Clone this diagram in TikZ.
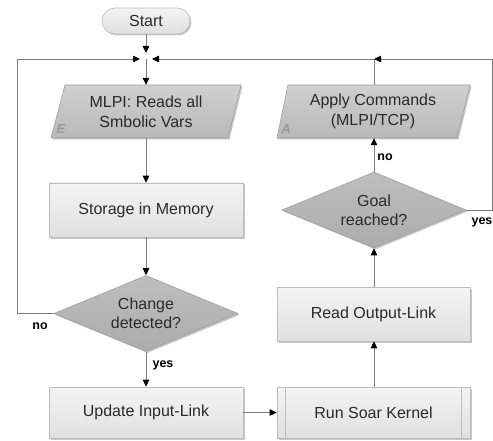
\documentclass[tikz,border=0pt]{standalone}
\usepackage{fontspec}
\setmainfont{Liberation Sans}
\usetikzlibrary{arrows.meta,shapes.geometric,shadows,calc}
\definecolor{linec}{HTML}{7A7A7A}
\definecolor{textc}{HTML}{2A2A2A}
\definecolor{boxtop}{HTML}{F4F4F4}
\definecolor{boxbot}{HTML}{E0E0E0}
\definecolor{boxborder}{HTML}{BDBDBD}
\definecolor{diatop}{HTML}{BEBEBE}
\definecolor{diabot}{HTML}{ACACAC}
\definecolor{diaborder}{HTML}{A0A0A0}
\definecolor{paratop}{HTML}{D0D0D0}
\definecolor{parabot}{HTML}{B8B8B8}
\definecolor{letterc}{HTML}{989898}
\begin{document}
\begin{tikzpicture}[x=1pt,y=-1pt,
  every node/.style={font=\fontsize{16}{20}\selectfont, text=textc},
  shd/.style={drop shadow={shadow xshift=1.5pt, shadow yshift=-1.5pt, fill=black, opacity=0.22}},
  box/.style={rectangle, minimum width=194pt, minimum height=54pt, inner sep=0pt,
    draw=boxborder, line width=0.6pt, top color=boxtop, bottom color=boxbot, shd},
  dia/.style={diamond, aspect=2.4, minimum width=184pt, minimum height=76pt, inner sep=0pt,
    draw=diaborder, line width=0.6pt, top color=diatop, bottom color=diabot, align=center, shd},
  parafill/.style={draw=diaborder, line width=0.6pt, top color=paratop, bottom color=parabot, shd},
  paratext/.style={rectangle, minimum width=176pt, minimum height=53pt, inner sep=0pt, align=center},
  pill/.style={rectangle, rounded corners=13pt, minimum width=88pt, minimum height=26pt, inner sep=0pt,
    draw=boxborder, line width=0.6pt, top color=boxtop, bottom color=boxbot, shd},
  conn/.style={draw=linec, line width=0.8pt},
  arr/.style={conn, -{Triangle[length=7pt,width=6.5pt,color=black]}},
  lbl/.style={font=\fontsize{12.5}{14}\selectfont\bfseries, text=black},
  letter/.style={font=\fontsize{13}{13}\selectfont\bfseries\itshape, text=letterc}
]
\useasboundingbox (0,0) rectangle (493,441);
\fill[white] (0,0) rectangle (493,441);

% start
\node[pill] (start) at (146,21) {Start};

% parallelograms
\path[parafill] (65,85) -- (241,85) -- (228,138) -- (51,138) -- cycle;
\node[paratext] (pE) at (146,111.5) {MLPI: Reads all\\Smbolic Vars};
\node[letter] (lE) at (61,129) {E};

\path[parafill] (288,85) -- (470,85) -- (457,138) -- (277,138) -- cycle;
\node[paratext] (pA) at (373,111.5) {Apply Commands\\(MLPI/TCP)};
\node[letter] (lA) at (286,129) {A};

% left column
\node[box] (store) at (146,210) {Storage in Memory};
\node[dia] (chg) at (146,313.5) {Change\\[-1pt]detected?};
\node[box, minimum height=51pt] (upd) at (146,412.5) {Update Input-Link};

% right column
\node[box, minimum width=193pt, minimum height=51pt] (run) at (373.5,412.5) {Run Soar Kernel};
\draw[boxborder, line width=0.6pt] ($(run.north west)+(9,0)$) -- ($(run.south west)+(9,0)$)
  ($(run.north east)+(-9,0)$) -- ($(run.south east)+(-9,0)$);
\node[box, minimum width=193pt] (read) at (373.5,314) {Read Output-Link};
\node[dia] (goal) at (374,210) {Goal\\[-1pt]reached?};

% junction coordinates
\coordinate (J) at (146,59);
\coordinate (K) at (374,59);
\coordinate (RT) at (492,59);
\coordinate (RB) at (492,210);
\coordinate (LT) at (17,59);
\coordinate (LB) at (17,313.5);

% connectors
\draw[arr, shorten >=6pt] (start.south) -- (J);
\draw[arr] (J) -- (J |- pE.north);
\draw[arr] (pE.south) -- (store.north);
\draw[arr] (store.south) -- (chg.north);
\draw[arr] (chg.south) -- (upd.north);
\draw[arr] (upd.east) -- (run.west);
\draw[arr] (run.north -| goal) -- (read.south -| goal);
\draw[arr] (read.north -| goal) -- (goal.south);
\draw[arr] (goal.north) -- (goal.north |- pA.south);
\draw[conn] (K |- pA.north) -- (K);
\draw[arr] (goal.east) -- (RB) -- (RT) -- (K);
\draw[arr, shorten >=6pt] (K) -- (J);
\draw[arr, shorten >=6pt] (chg.west) -- (LB) -- (LT) -- (J);

% labels
\node[lbl] (noL) at (40,326) {no};
\node[lbl] (yesL) at (163,365) {yes};
\node[lbl] (noR) at (385,157) {no};
\node[lbl] (yesR) at (482,222) {yes};
\end{tikzpicture}
\end{document}
